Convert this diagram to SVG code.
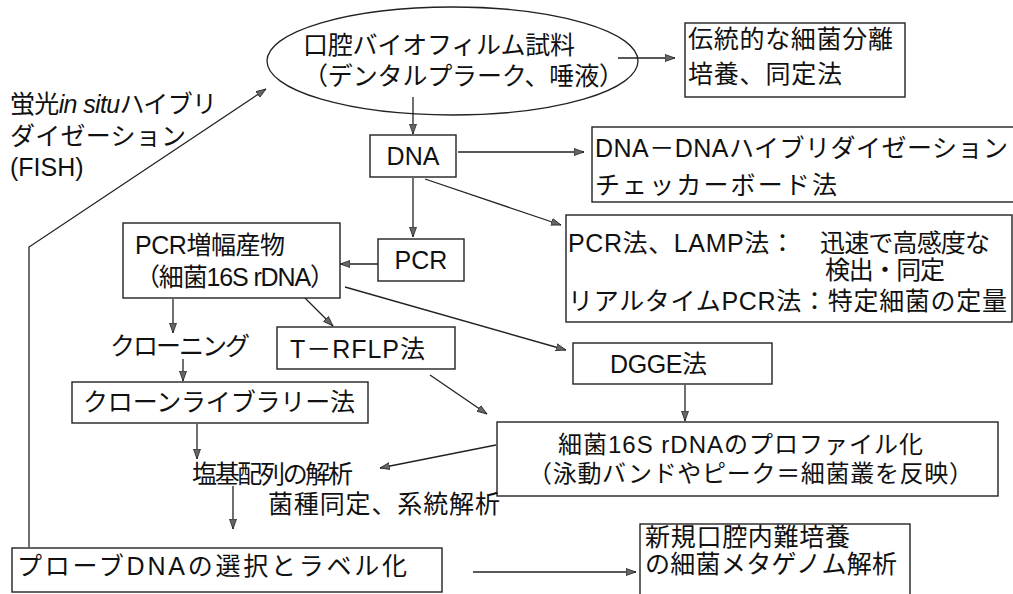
<svg xmlns="http://www.w3.org/2000/svg" width="1013" height="594" viewBox="0 0 1013 594">
<defs>
<style>
.t{font-family:"Liberation Sans","Noto Sans CJK JP",sans-serif;font-size:25px;fill:#111}
.s{font-size:24px}
.b{fill:#fff;stroke:#222;stroke-width:1.4}
.c{fill:none;stroke:#222;stroke-width:1.3;marker-end:url(#ah)}
</style>
<marker id="ah" markerUnits="userSpaceOnUse" markerWidth="11" markerHeight="9" refX="10" refY="4" orient="auto">
<path d="M0,0.5 L10,4 L0,7.5 z" fill="#666" stroke="#222" stroke-width="0.8"/>
</marker>
</defs>
<rect width="1013" height="594" fill="#fff"/>

<g id="connectors">
<polyline class="c" points="29,547 29,247 266,89"/>
<line class="c" x1="618" y1="58" x2="675" y2="58"/>
<line class="c" x1="413" y1="97" x2="413" y2="134"/>
<line class="c" x1="458" y1="152" x2="584" y2="152"/>
<line class="c" x1="413" y1="178" x2="413" y2="237"/>
<line class="c" x1="425" y1="179" x2="561" y2="225"/>
<line class="c" x1="378" y1="264" x2="340" y2="264"/>
<line class="c" x1="173" y1="299" x2="173" y2="333"/>
<line class="c" x1="183" y1="359" x2="183" y2="381"/>
<line class="c" x1="302" y1="295" x2="333" y2="326"/>
<line class="c" x1="345" y1="287" x2="566" y2="350"/>
<line class="c" x1="430" y1="375" x2="487" y2="414"/>
<line class="c" x1="685" y1="385" x2="685" y2="421"/>
<line class="c" x1="496" y1="445" x2="380" y2="468"/>
<line class="c" x1="197" y1="424" x2="197" y2="459"/>
<line class="c" x1="233" y1="486" x2="233" y2="529"/>
<line class="c" x1="473" y1="572" x2="636" y2="572"/>
</g>

<g id="fish-label">
<text class="t" x="10" y="113" textLength="207" lengthAdjust="spacing">蛍光<tspan font-style="italic">in situ</tspan>ハイブリ</text>
<text class="t" x="10" y="145" textLength="176" lengthAdjust="spacing">ダイゼーション</text>
<text class="t" x="10" y="176">(FISH)</text>
</g>

<g id="sample">
<ellipse cx="452.5" cy="61" rx="185.5" ry="54" fill="none" stroke="#222" stroke-width="1.3"/>
<text class="t" x="303" y="54" textLength="272" lengthAdjust="spacing">口腔バイオフィルム試料</text>
<text class="t" x="303" y="85" textLength="321" lengthAdjust="spacing">（デンタルプラーク、唾液）</text>
</g>

<g id="culture">
<rect class="b" x="685" y="23" width="220" height="74"/>
<text class="t" x="688" y="48" textLength="205" lengthAdjust="spacing">伝統的な細菌分離</text>
<text class="t" x="688" y="83" textLength="154" lengthAdjust="spacing">培養、同定法</text>
</g>

<g id="dna">
<rect class="b" x="370" y="135" width="86" height="42"/>
<text class="t" x="413" y="165" text-anchor="middle">DNA</text>
</g>

<g id="checkerboard">
<rect class="b" x="592" y="127" width="425" height="75"/>
<text class="t" x="595" y="157" textLength="413" lengthAdjust="spacing">DNA－DNAハイブリダイゼーション</text>
<text class="t" x="595" y="194" textLength="242" lengthAdjust="spacing">チェッカーボード法</text>
</g>

<g id="pcr">
<rect class="b" x="378" y="239" width="86" height="42"/>
<text class="t" x="421" y="269" text-anchor="middle">PCR</text>
</g>

<g id="lamp">
<rect class="b" x="566" y="215" width="446" height="107"/>
<text class="t" x="568" y="252" textLength="227" lengthAdjust="spacing">PCR法、LAMP法：</text>
<text class="t" x="820" y="252" textLength="170" lengthAdjust="spacing">迅速で高感度な</text>
<text class="t" x="825" y="279" textLength="120" lengthAdjust="spacing">検出・同定</text>
<text class="t" x="568" y="310" textLength="439" lengthAdjust="spacing">リアルタイムPCR法：特定細菌の定量</text>
</g>

<g id="amplicon">
<rect class="b" x="123" y="223" width="217" height="75"/>
<text class="t" x="135" y="254" textLength="150" lengthAdjust="spacing">PCR増幅産物</text>
<text class="t" x="135" y="286" textLength="200" lengthAdjust="spacing">（細菌16S rDNA）</text>
</g>

<g id="cloning">
<text class="t" x="110" y="355" textLength="140" lengthAdjust="spacing">クローニング</text>
</g>

<g id="trflp">
<rect class="b" x="277" y="327" width="178" height="42"/>
<text class="t" x="290" y="358" textLength="135" lengthAdjust="spacing">T－RFLP法</text>
</g>

<g id="dgge">
<rect class="b" x="573" y="343" width="199" height="41"/>
<text class="t" x="610" y="373" textLength="97" lengthAdjust="spacing">DGGE法</text>
</g>

<g id="clone-library">
<rect class="b" x="72" y="382" width="296" height="41"/>
<text class="t" x="83" y="411" textLength="272" lengthAdjust="spacing">クローンライブラリー法</text>
</g>

<g id="profiling">
<rect class="b" x="497" y="422" width="501" height="74"/>
<text class="t s" x="558" y="453" textLength="365" lengthAdjust="spacing">細菌16S rDNAのプロファイル化</text>
<text class="t s" x="528" y="482" textLength="445" lengthAdjust="spacing">（泳動バンドやピーク＝細菌叢を反映）</text>
</g>

<g id="sequencing">
<text class="t" x="192" y="483" textLength="161" lengthAdjust="spacing">塩基配列の解析</text>
</g>

<g id="identification">
<text class="t" x="268" y="513" textLength="232" lengthAdjust="spacing">菌種同定、系統解析</text>
</g>

<g id="probe">
<rect class="b" x="12" y="548" width="430" height="44"/>
<text class="t" x="17" y="575" textLength="390" lengthAdjust="spacing">プローブDNAの選択とラベル化</text>
</g>

<g id="metagenome">
<rect class="b" x="640" y="524" width="270" height="80"/>
<text class="t" x="645" y="546" textLength="205" lengthAdjust="spacing">新規口腔内難培養</text>
<text class="t" x="645" y="573" textLength="252" lengthAdjust="spacing">の細菌メタゲノム解析</text>
</g>
</svg>
